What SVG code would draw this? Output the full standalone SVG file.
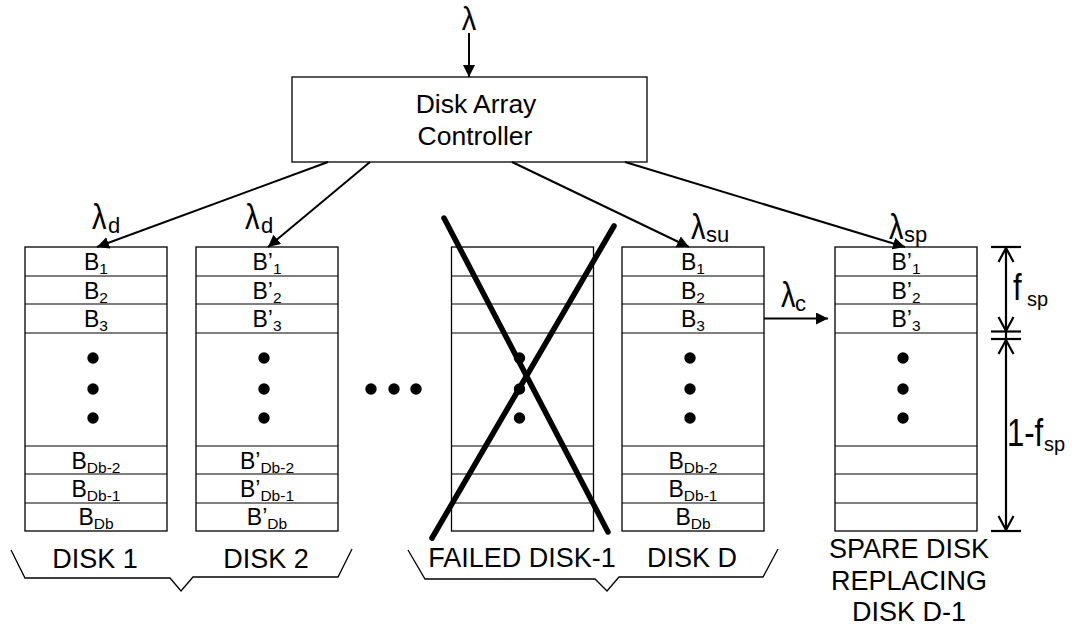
<svg xmlns="http://www.w3.org/2000/svg" xmlns:xlink="http://www.w3.org/1999/xlink" width="1077" height="626" viewBox="0 0 1077 626">
  <style>
    text { font-family: "Liberation Sans", Arial, sans-serif; fill: #000; }
    .blk { font-size: 23px; text-anchor: middle; }
    .sub { font-size: 15.5px; }
    .lam { font-size: 29px; }
    .lsub { font-size: 22px; }
    .lbl { font-size: 27px; text-anchor: middle; }
    .ctl { font-size: 26.5px; text-anchor: middle; }
    .frame { fill: #fff; stroke: #000; stroke-width: 1.3; }
    .row { stroke: #000; stroke-width: 1.2; }
    .conn { stroke: #000; stroke-width: 2; fill: none; }
    .brace { stroke: #000; stroke-width: 1.3; fill: none; }
    .dim { stroke: #000; stroke-width: 2.2; fill: none; }
    .cross { stroke: #000; stroke-width: 5.5; stroke-linecap: round; }
  </style>
  <defs>
    <marker id="arrow" markerUnits="userSpaceOnUse" markerWidth="13" markerHeight="13" refX="12" refY="6" orient="auto">
      <path d="M0,0 L12,6 L0,12 z" fill="#000"/>
    </marker>
    <!-- one disk: outline plus the block separators -->
    <g id="diskFrame">
      <rect class="frame" x="0" y="0" width="142" height="284"/>
      <line class="row" x1="0" y1="29" x2="142" y2="29"/>
      <line class="row" x1="0" y1="57" x2="142" y2="57"/>
      <line class="row" x1="0" y1="86" x2="142" y2="86"/>
      <line class="row" x1="0" y1="199" x2="142" y2="199"/>
      <line class="row" x1="0" y1="227" x2="142" y2="227"/>
      <line class="row" x1="0" y1="256" x2="142" y2="256"/>
    </g>
    <g id="vdots" fill="#000">
      <circle cx="68" cy="111" r="5.7"/>
      <circle cx="68" cy="142" r="5.7"/>
      <circle cx="68" cy="171" r="5.7"/>
    </g>
  </defs>

  <rect width="1077" height="626" fill="#fff"/>

  <!-- controller -->
  <g id="controller">
    <rect class="frame" x="292" y="77" width="355" height="85"/>
    <text class="ctl" x="476" y="113">Disk Array</text>
    <text class="ctl" x="475" y="145">Controller</text>
  </g>

  <!-- disk 1 -->
  <g id="disk1">
    <use xlink:href="#diskFrame" x="25" y="247"/>
    <use xlink:href="#vdots" x="25" y="247"/>
    <text class="blk" x="96" y="270">B<tspan class="sub" dy="4">1</tspan></text>
    <text class="blk" x="96" y="299">B<tspan class="sub" dy="4">2</tspan></text>
    <text class="blk" x="96" y="327">B<tspan class="sub" dy="4">3</tspan></text>
    <text class="blk" x="96" y="469">B<tspan class="sub" dy="4">Db-2</tspan></text>
    <text class="blk" x="96" y="497">B<tspan class="sub" dy="4">Db-1</tspan></text>
    <text class="blk" x="96" y="525">B<tspan class="sub" dy="4">Db</tspan></text>
    <text class="lbl" x="95" y="568">DISK 1</text>
  </g>

  <!-- disk 2 -->
  <g id="disk2">
    <use xlink:href="#diskFrame" x="196" y="247"/>
    <use xlink:href="#vdots" x="196" y="247"/>
    <text class="blk" x="267" y="270">B’<tspan class="sub" dy="4">1</tspan></text>
    <text class="blk" x="267" y="299">B’<tspan class="sub" dy="4">2</tspan></text>
    <text class="blk" x="267" y="327">B’<tspan class="sub" dy="4">3</tspan></text>
    <text class="blk" x="267" y="469">B’<tspan class="sub" dy="4">Db-2</tspan></text>
    <text class="blk" x="267" y="497">B’<tspan class="sub" dy="4">Db-1</tspan></text>
    <text class="blk" x="267" y="525">B’<tspan class="sub" dy="4">Db</tspan></text>
    <text class="lbl" x="266" y="568">DISK 2</text>
  </g>

  <!-- disks in between -->
  <g id="ellipsis" fill="#000">
    <circle cx="371" cy="389" r="5.7"/>
    <circle cx="394" cy="389" r="5.7"/>
    <circle cx="416" cy="389" r="5.7"/>
  </g>

  <!-- failed disk -->
  <g id="diskFailed">
    <use xlink:href="#diskFrame" x="451.5" y="247"/>
    <use xlink:href="#vdots" x="451.5" y="247"/>
    <line class="cross" x1="444" y1="218" x2="608" y2="532"/>
    <line class="cross" x1="614" y1="226" x2="432" y2="538"/>
    <text class="lbl" x="522" y="567">FAILED DISK-1</text>
  </g>

  <!-- disk D -->
  <g id="diskD">
    <use xlink:href="#diskFrame" x="622" y="247"/>
    <use xlink:href="#vdots" x="622" y="247"/>
    <text class="blk" x="693" y="270">B<tspan class="sub" dy="4">1</tspan></text>
    <text class="blk" x="693" y="299">B<tspan class="sub" dy="4">2</tspan></text>
    <text class="blk" x="693" y="327">B<tspan class="sub" dy="4">3</tspan></text>
    <text class="blk" x="693" y="469">B<tspan class="sub" dy="4">Db-2</tspan></text>
    <text class="blk" x="693" y="497">B<tspan class="sub" dy="4">Db-1</tspan></text>
    <text class="blk" x="693" y="525">B<tspan class="sub" dy="4">Db</tspan></text>
    <text class="lbl" x="692" y="567">DISK D</text>
  </g>

  <!-- spare disk -->
  <g id="diskSpare">
    <use xlink:href="#diskFrame" x="835" y="247"/>
    <use xlink:href="#vdots" x="835" y="247"/>
    <text class="blk" x="906" y="270">B’<tspan class="sub" dy="4">1</tspan></text>
    <text class="blk" x="906" y="299">B’<tspan class="sub" dy="4">2</tspan></text>
    <text class="blk" x="906" y="327">B’<tspan class="sub" dy="4">3</tspan></text>
    <text class="lbl" x="909" y="558">SPARE DISK</text>
    <text class="lbl" x="909" y="590">REPLACING</text>
    <text class="lbl" x="909" y="621">DISK D-1</text>
  </g>

  <!-- group braces -->
  <g id="braces">
    <polyline class="brace" points="11,550 25,578 170,578 181,591 193,577 338,577 352,549"/>
    <polyline class="brace" points="408,550 425,579 595,579 607,591 619,577 763,577 778,549"/>
  </g>

  <!-- request flows -->
  <g id="connectors">
    <line class="conn" x1="469" y1="33" x2="469" y2="77" marker-end="url(#arrow)"/>
    <line class="conn" x1="328" y1="162" x2="97" y2="247" marker-end="url(#arrow)"/>
    <line class="conn" x1="370" y1="162" x2="268" y2="247" marker-end="url(#arrow)"/>
    <line class="conn" x1="512" y1="162" x2="689" y2="247" marker-end="url(#arrow)"/>
    <line class="conn" x1="625" y1="162" x2="905" y2="247" marker-end="url(#arrow)"/>
    <line class="conn" x1="764" y1="318.5" x2="828" y2="318.5" marker-end="url(#arrow)"/>
  </g>

  <!-- rate labels -->
  <g id="rates">
    <text class="lam" text-anchor="middle" transform="translate(469,30) scale(1,1.15)">λ</text>
    <text class="lam" transform="translate(92,229) scale(1,1.18)">λ</text>
    <text class="lsub" x="108" y="233">d</text>
    <text class="lam" transform="translate(245,229) scale(1,1.18)">λ</text>
    <text class="lsub" x="261" y="233">d</text>
    <text class="lam" transform="translate(691,239) scale(1,1.18)">λ</text>
    <text class="lsub" x="706" y="242">su</text>
    <text class="lam" transform="translate(889,239) scale(1,1.18)">λ</text>
    <text class="lsub" x="904" y="242">sp</text>
    <text class="lam" transform="translate(781,307) scale(1,1.18)">λ</text>
    <text class="lsub" x="795" y="311">c</text>
  </g>

  <!-- spare fraction dimension -->
  <g id="dimension">
    <line class="dim" x1="1006" y1="247" x2="1006" y2="531"/>
    <line class="dim" x1="991" y1="247" x2="1021" y2="247"/>
    <line class="dim" x1="991" y1="331.5" x2="1021" y2="331.5"/>
    <line class="dim" x1="991" y1="339" x2="1021" y2="339"/>
    <line class="dim" x1="991" y1="531" x2="1021" y2="531"/>
    <polyline class="dim" points="998.5,262 1006,248 1013.5,262"/>
    <polyline class="dim" points="998.5,317 1006,331 1013.5,317"/>
    <polyline class="dim" points="998.5,354 1006,340 1013.5,354"/>
    <polyline class="dim" points="998.5,516 1006,530 1013.5,516"/>
    <text font-size="31" transform="translate(1013,300) scale(1,1.2)">f</text>
    <text font-size="20" x="1027" y="306">sp</text>
    <text font-size="31" transform="translate(1007,446) scale(1,1.25)">1-f</text>
    <text font-size="20" x="1044" y="451">sp</text>
  </g>
</svg>
